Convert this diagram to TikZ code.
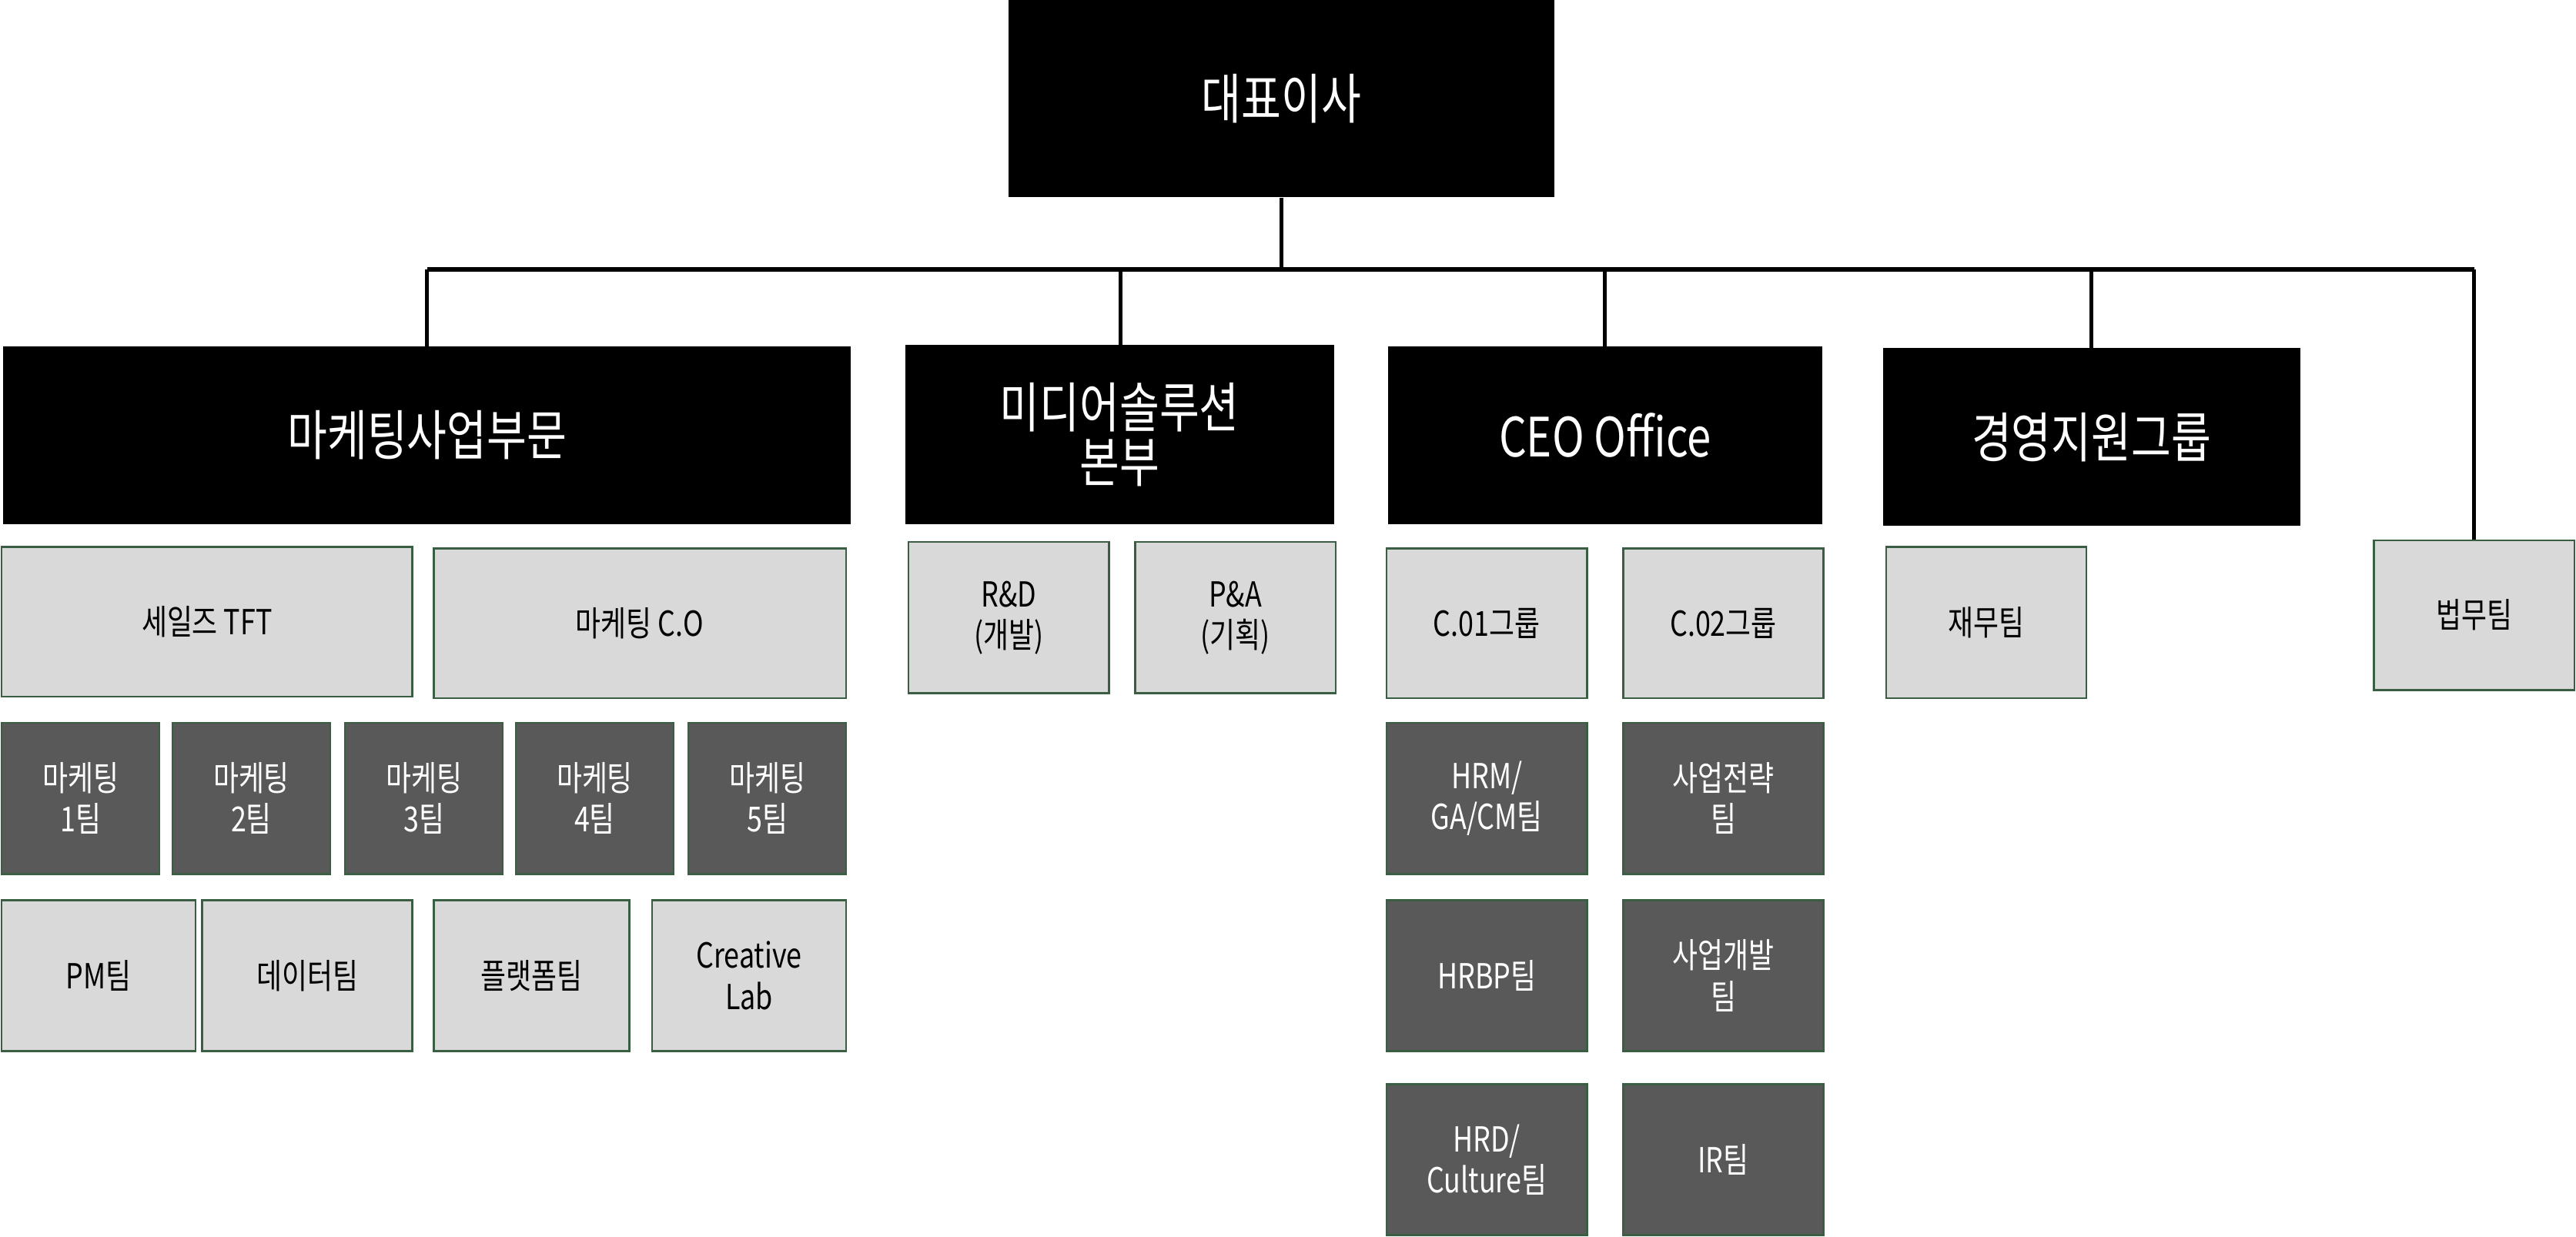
\documentclass[tikz,border=0pt]{standalone}
\usepackage{fontspec}
\setmainfont{Noto Sans CJK KR}[FakeStretch=0.8]
\usetikzlibrary{calc}
\definecolor{bord}{HTML}{3A5E44}
\definecolor{lg}{HTML}{D9D9D9}
\definecolor{dg}{HTML}{595959}
\tikzset{
  base/.style={inner sep=0pt, align=center, font=\fontsize{21}{25}\selectfont},
  blk/.style={base, fill=black, text=white, font=\fontsize{33}{33}\selectfont},
  lite/.style={base, fill=lg, draw=bord, line width=1.2pt, text=black},
  dark/.style={base, fill=dg, draw=bord, line width=1.2pt, text=white},
  conn/.style={line width=2.4pt, black}
}
\newcommand\bx[7]{\node[#1, minimum width={(#5-#3)*1pt}, minimum height={(#6-#4)*1pt}] (#2) at ({(#3+#5)/2},{(#4+#6)/2}) {#7};}
\begin{document}
\begin{tikzpicture}[x=1pt,y=-1pt]
\useasboundingbox (0,0) rectangle (1568,753);
\bx{blk}{ceo}{614}{0}{946}{120}{대표이사}
\bx{blk}{mk}{2}{211}{518}{319}{마케팅사업부문}
\bx{blk}{md}{551}{210}{812}{319}{\fontsize{33}{30}\selectfont 미디어솔루션\\본부}
\bx{blk}{co}{845}{211}{1109}{319}{CEO Office}
\bx{blk}{gy}{1146}{212}{1400}{320}{경영지원그룹}
\bx{lite}{law}{1445}{329}{1567}{420}{법무팀}
\bx{lite}{st}{1}{333}{251}{424}{세일즈 TFT}
\bx{lite}{mco}{264}{334}{515}{425}{마케팅 C.O}
\bx{dark}{m1}{1}{440}{97}{532}{마케팅\\1팀}
\bx{dark}{m2}{105}{440}{201}{532}{마케팅\\2팀}
\bx{dark}{m3}{210}{440}{306}{532}{마케팅\\3팀}
\bx{dark}{m4}{314}{440}{410}{532}{마케팅\\4팀}
\bx{dark}{m5}{419}{440}{515}{532}{마케팅\\5팀}
\bx{lite}{pm}{1}{548}{119}{640}{PM팀}
\bx{lite}{dt}{123}{548}{251}{640}{데이터팀}
\bx{lite}{pf}{264}{548}{383}{640}{플랫폼팀}
\bx{lite}{cl}{397}{548}{515}{640}{Creative\\Lab}
\bx{lite}{rd}{553}{330}{675}{422}{R\&D\\(개발)}
\bx{lite}{pa}{691}{330}{813}{422}{P\&A\\(기획)}
\bx{lite}{c1}{844}{334}{966}{425}{C.01그룹}
\bx{lite}{c2}{988}{334}{1110}{425}{C.02그룹}
\bx{dark}{hrm}{844}{440}{966}{532}{HRM/\\GA/CM팀}
\bx{dark}{sj}{988}{440}{1110}{532}{사업전략\\팀}
\bx{dark}{hrbp}{844}{548}{966}{640}{HRBP팀}
\bx{dark}{sg}{988}{548}{1110}{640}{사업개발\\팀}
\bx{dark}{hrd}{844}{660}{966}{752}{HRD/\\Culture팀}
\bx{dark}{ir}{988}{660}{1110}{752}{IR팀}
\bx{lite}{jm}{1148}{333}{1270}{425}{재무팀}
\coordinate (hub) at (780,164);
\coordinate (hl) at (260,164);
\coordinate (hr) at (1506,164);
\draw[conn] (ceo.south) -- (hub);
\draw[conn] (hl) -- (hr);
\draw[conn] (hl) -- (260,211);
\draw[conn] (682,164) -- (md.north -| 682,0);
\draw[conn] (977,164) -- (co.north -| 977,0);
\draw[conn] (1273,164) -- (gy.north -| 1273,0);
\draw[conn] (hr) -- (law.north);
\end{tikzpicture}
\end{document}
